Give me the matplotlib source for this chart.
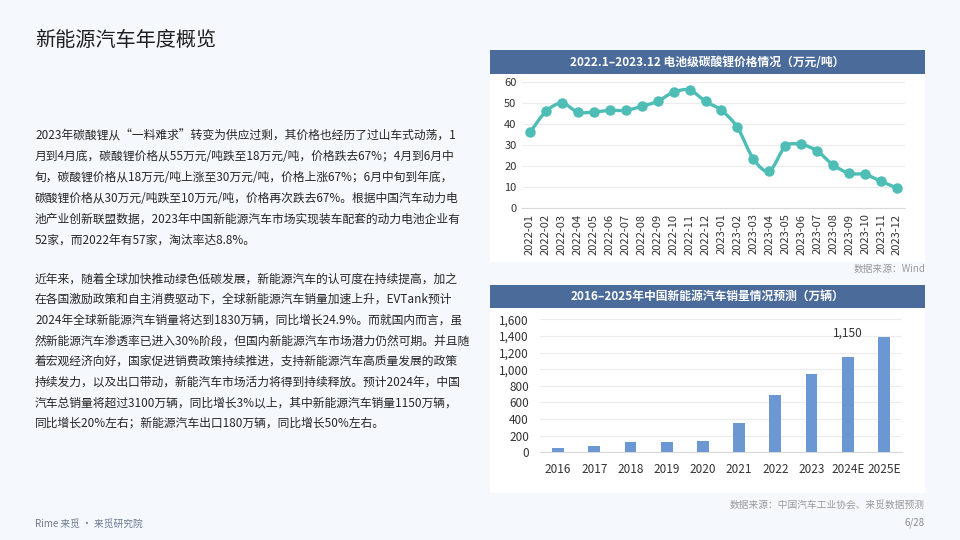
import matplotlib
matplotlib.use("Agg")
import matplotlib.pyplot as plt
from matplotlib.patches import Rectangle, PathPatch
from matplotlib.path import Path
from matplotlib.ticker import FuncFormatter
import numpy as np

plt.rcParams['font.family'] = ['Noto Sans CJK SC', 'DejaVu Sans']

# ---------------- data ----------------
price_months = ["2022-01", "2022-02", "2022-03", "2022-04", "2022-05", "2022-06",
                "2022-07", "2022-08", "2022-09", "2022-10", "2022-11", "2022-12",
                "2023-01", "2023-02", "2023-03", "2023-04", "2023-05", "2023-06",
                "2023-07", "2023-08", "2023-09", "2023-10", "2023-11", "2023-12"]
price_values = [36.0, 46.0, 50.0, 45.6, 45.7, 46.5, 46.5, 48.4, 50.8, 55.2, 56.2, 50.8,
                46.5, 38.4, 23.3, 17.5, 29.4, 30.3, 27.1, 20.5, 16.5, 16.0, 12.7, 9.5]

sales_years = ["2016", "2017", "2018", "2019", "2020", "2021", "2022", "2023", "2024E", "2025E"]
sales_values = [51, 78, 125, 121, 137, 352, 689, 945, 1150, 1385]
sales_label_index = 8

page_title = "新能源汽车年度概览"
chart1_title = "2022.1–2023.12 电池级碳酸锂价格情况（万元/吨）"
chart2_title = "2016–2025年中国新能源汽车销量情况预测（万辆）"
source1 = "数据来源：Wind"
source2 = "数据来源：中国汽车工业协会、来觅数据预测"
footer_left = "Rime 来觅 · 来觅研究院"
footer_right = "6/28"

para1 = [
    "2023年碳酸锂从“一料难求”转变为供应过剩，其价格也经历了过山车式动荡，1",
    "月到4月底，碳酸锂价格从55万元/吨跌至18万元/吨，价格跌去67%；4月到6月中",
    "旬，碳酸锂价格从18万元/吨上涨至30万元/吨，价格上涨67%；6月中旬到年底，",
    "碳酸锂价格从30万元/吨跌至10万元/吨，价格再次跌去67%。根据中国汽车动力电",
    "池产业创新联盟数据，2023年中国新能源汽车市场实现装车配套的动力电池企业有",
    "52家，而2022年有57家，淘汰率达8.8%。",
]
para2 = [
    "近年来，随着全球加快推动绿色低碳发展，新能源汽车的认可度在持续提高，加之",
    "在各国激励政策和自主消费驱动下，全球新能源汽车销量加速上升，EVTank预计",
    "2024年全球新能源汽车销量将达到1830万辆，同比增长24.9%。而就国内而言，虽",
    "然新能源汽车渗透率已进入30%阶段，但国内新能源汽车市场潜力仍然可期。并且随",
    "着宏观经济向好，国家促进销费政策持续推进，支持新能源汽车高质量发展的政策",
    "持续发力，以及出口带动，新能汽车市场活力将得到持续释放。预计2024年，中国",
    "汽车总销量将超过3100万辆，同比增长3%以上，其中新能源汽车销量1150万辆，",
    "同比增长20%左右；新能源汽车出口180万辆，同比增长50%左右。",
]

# ---------------- figure ----------------
W, H = 960, 540
fig = plt.figure(figsize=(9.6, 5.4), dpi=100)
fig.patch.set_facecolor("#f5f9fd")

def fx(x):
    return x / W

def fy(y):
    return 1 - y / H

text_color = "#262626"
fig.text(fx(35), fy(40), page_title, fontsize=14.5, color="#1f1f1f", va="center", ha="left")

for i, line in enumerate(para1):
    fig.text(fx(35), fy(135.5 + i * 21), line, fontsize=8.5, color=text_color, va="center", ha="left")
for i, line in enumerate(para2):
    fig.text(fx(35), fy(279 + i * 20.6), line, fontsize=8.5, color=text_color, va="center", ha="left")

# panel backgrounds
header_color = "#4b6b9a"
for (top, bottom) in [(50, 262), (285, 493)]:
    fig.patches.append(Rectangle((fx(490), fy(bottom)), fx(925) - fx(490), fy(top) - fy(bottom),
                                 transform=fig.transFigure, facecolor="white", edgecolor="none", zorder=-2))
for (top, bottom, title) in [(50, 74, chart1_title), (285, 308, chart2_title)]:
    fig.patches.append(Rectangle((fx(490), fy(bottom)), fx(925) - fx(490), fy(top) - fy(bottom),
                                 transform=fig.transFigure, facecolor=header_color, edgecolor="none", zorder=-1))
    fig.text(fx(707.5), fy((top + bottom) / 2), title, fontsize=8.5, color="white",
             fontweight="bold", ha="center", va="center")

# ---------------- chart 1: line ----------------
ax1 = fig.add_axes([fx(522), fy(208), fx(905) - fx(522), fy(82) - fy(208)])
ax1.set_zorder(2)
ax1.patch.set_alpha(0)
n = len(price_values)
xs = np.arange(n)
ax1.set_xlim(-0.5, n - 0.5)
ax1.set_ylim(0, 60)
ax1.set_yticks(np.arange(0, 61, 10))
ax1.grid(axis="y", color="#ececec", linewidth=0.8)
ax1.set_axisbelow(True)
for s in ["top", "right", "left"]:
    ax1.spines[s].set_visible(False)
ax1.spines["bottom"].set_color("#d9d9d9")
ax1.tick_params(axis="both", length=0, labelsize=8, colors="#333333", pad=4)
ax1.set_xticks(xs)
ax1.set_xticklabels(price_months, rotation=90)

# smooth path through data points (bezier, echarts-like smoothing)
ys = np.array(price_values, dtype=float)
smooth = 0.3
verts = [(xs[0], ys[0])]
codes = [Path.MOVETO]
for i in range(n - 1):
    p0 = np.array([xs[max(i - 1, 0)], ys[max(i - 1, 0)]])
    p1 = np.array([xs[i], ys[i]])
    p2 = np.array([xs[i + 1], ys[i + 1]])
    p3 = np.array([xs[min(i + 2, n - 1)], ys[min(i + 2, n - 1)]])
    c1 = p1 + (p2 - p0) * smooth / 2
    c2 = p2 - (p3 - p1) * smooth / 2
    verts += [tuple(c1), tuple(c2), tuple(p2)]
    codes += [Path.CURVE4, Path.CURVE4, Path.CURVE4]
line_color = "#4dbdb6"
ax1.add_patch(PathPatch(Path(verts, codes), facecolor="none", edgecolor=line_color,
                        linewidth=2.4, capstyle="round", joinstyle="round", zorder=3))
ax1.plot(xs, ys, linestyle="none", marker="o", markersize=6.5, color=line_color, zorder=4)

fig.text(fx(925), fy(269), source1, fontsize=7, color="#9a9a9a", ha="right", va="center")

# ---------------- chart 2: bars ----------------
ax2 = fig.add_axes([fx(540), fy(452.3), fx(902) - fx(540), fy(319.3) - fy(452.3)])
ax2.set_zorder(2)
ax2.patch.set_alpha(0)
m = len(sales_values)
bx = np.arange(m)
bar_color = "#6b98d2"
ax2.bar(bx, sales_values, width=0.33, color=bar_color, zorder=3)
ax2.set_xlim(-0.5, m - 0.5)
ax2.set_ylim(0, 1600)
ax2.set_yticks(np.arange(0, 1601, 200))
ax2.yaxis.set_major_formatter(FuncFormatter(lambda v, p: f"{int(v):,}"))
ax2.grid(axis="y", color="#ececec", linewidth=0.8)
ax2.set_axisbelow(True)
for s in ["top", "right", "left"]:
    ax2.spines[s].set_visible(False)
ax2.spines["bottom"].set_color("#d9d9d9")
ax2.tick_params(axis="both", length=0, labelsize=8.5, colors="#333333")
ax2.tick_params(axis="x", pad=8)
ax2.tick_params(axis="y", pad=8)
ax2.set_xticks(bx)
ax2.set_xticklabels(sales_years)
ax2.annotate(f"{sales_values[sales_label_index]:,}", (bx[sales_label_index], sales_values[sales_label_index]),
             xytext=(0, 12), textcoords="offset points", ha="center", va="bottom",
             fontsize=8.5, color="#333333")

fig.text(fx(925), fy(505), source2, fontsize=7, color="#9a9a9a", ha="right", va="center")

# footer
fig.text(fx(35), fy(524), footer_left, fontsize=7, color="#6b7a90", ha="left", va="center")
fig.text(fx(925), fy(523), footer_right, fontsize=7, color="#8a8a8a", ha="right", va="center")

fig.savefig("out.png", dpi=100, facecolor=fig.get_facecolor())
